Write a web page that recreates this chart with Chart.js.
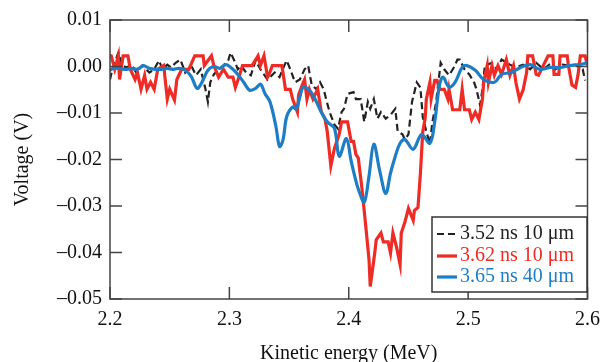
<!DOCTYPE html>
<html>
<head>
<meta charset="utf-8">
<script src="https://cdn.jsdelivr.net/npm/chart.js@4.4.1/dist/chart.umd.min.js"></script>
<style>
  html, body { margin: 0; padding: 0; background: #fff; }
</style>
</head>
<body>
<canvas id="chart" width="609" height="362"></canvas>
<script>
// Tick values
const xTicks = [2.2, 2.3, 2.4, 2.5, 2.6];
const yTicks = [0.01, 0.00, -0.01, -0.02, -0.03, -0.04, -0.05];

// Series names and colours
const seriesLabels = ['3.52 ns 10 \u03bcm', '3.62 ns 10 \u03bcm', '3.65 ns 40 \u03bcm'];
const seriesColors = ['#222222', '#ee2b24', '#1d7ec6'];

// 3.52 ns 10 um (black dashed)
const blackE = [2.200, 2.202, 2.207, 2.210, 2.214, 2.218, 2.222, 2.227, 2.233, 2.237, 2.241, 2.244, 2.248, 2.251, 2.255, 2.259,
  2.263, 2.268, 2.272, 2.276, 2.280, 2.282, 2.284, 2.287, 2.291, 2.295, 2.299, 2.301, 2.305, 2.307, 2.310, 2.314, 2.318, 2.322,
  2.326, 2.332, 2.338, 2.342, 2.346, 2.348, 2.351, 2.355, 2.359, 2.363, 2.366, 2.369, 2.373, 2.376, 2.379, 2.381, 2.384, 2.388,
  2.391, 2.394, 2.396, 2.399, 2.404, 2.406, 2.410, 2.413, 2.416, 2.418, 2.421, 2.424, 2.427, 2.431, 2.435, 2.439, 2.441, 2.445,
  2.447, 2.450, 2.453, 2.457, 2.460, 2.462, 2.465, 2.468, 2.470, 2.473, 2.477, 2.480, 2.484, 2.489, 2.491, 2.493, 2.497, 2.501,
  2.505, 2.507, 2.510, 2.512, 2.514, 2.520, 2.524, 2.528, 2.535, 2.540, 2.546, 2.552, 2.557, 2.563, 2.568, 2.573, 2.579, 2.585,
  2.590, 2.596, 2.598];
const blackV = [-0.0028, -0.0006, 0.0030, 0.0002, -0.0002, 0.0004, -0.0013, 0.0002, -0.0013, -0.0006, 0.0013, -0.0006, 0.0004, -0.0002, 0.0008, 0.0015,
  -0.0013, 0.0002, -0.0019, -0.0006, -0.0049, -0.0076, -0.0034, -0.0017, -0.0006, 0.0002, 0.0013, 0.0030, 0.0008, -0.0006, 0.0002, -0.0013, -0.0019, 0.0013,
  -0.0006, -0.0028, -0.0013, -0.0023, 0.0002, 0.0013, -0.0006, -0.0034, -0.0028, -0.0006, 0.0002, -0.0040, -0.0049, -0.0034, -0.0049, -0.0070, -0.0098, -0.0125,
  -0.0134, -0.0098, -0.0091, -0.0059, -0.0055, -0.0070, -0.0070, -0.0119, -0.0076, -0.0091, -0.0070, -0.0112, -0.0098, -0.0112, -0.0104, -0.0091, -0.0140, -0.0146,
  -0.0157, -0.0146, -0.0076, -0.0034, -0.0045, -0.0108, -0.0140, -0.0167, -0.0120, -0.0080, 0.0008, -0.0006, -0.0019, 0.0002, 0.0015, 0.0015, -0.0006, -0.0017,
  -0.0034, -0.0049, -0.0083, -0.0049, 0.0002, 0.0008, -0.0006, 0.0015, 0.0004, -0.0002, 0.0004, -0.0006, 0.0008, -0.0006, 0.0004, -0.0006, 0.0004, 0.0002,
  0.0004, -0.0006, -0.0030];

// 3.62 ns 10 um (red)
const redE = [2.200, 2.201, 2.204, 2.207, 2.208, 2.211, 2.215, 2.217, 2.221, 2.223, 2.226, 2.229, 2.231, 2.234, 2.237, 2.240,
  2.245, 2.248, 2.250, 2.254, 2.256, 2.260, 2.266, 2.271, 2.278, 2.279, 2.285, 2.287, 2.291, 2.295, 2.299, 2.303, 2.305, 2.308,
  2.311, 2.319, 2.324, 2.326, 2.329, 2.332, 2.333, 2.336, 2.344, 2.347, 2.351, 2.353, 2.357, 2.358, 2.361, 2.363, 2.365, 2.367,
  2.370, 2.374, 2.377, 2.380, 2.382, 2.385, 2.388, 2.392, 2.394, 2.398, 2.399, 2.402, 2.404, 2.406, 2.408, 2.411, 2.414, 2.417,
  2.418, 2.421, 2.422, 2.423, 2.427, 2.429, 2.433, 2.435, 2.437, 2.440, 2.443, 2.444, 2.447, 2.450, 2.454, 2.455, 2.458, 2.460,
  2.462, 2.464, 2.465, 2.468, 2.469, 2.472, 2.474, 2.476, 2.480, 2.483, 2.484, 2.487, 2.493, 2.495, 2.497, 2.501, 2.503, 2.506,
  2.509, 2.512, 2.513, 2.516, 2.517, 2.520, 2.522, 2.525, 2.528, 2.532, 2.535, 2.538, 2.540, 2.543, 2.546, 2.549, 2.550, 2.554,
  2.557, 2.559, 2.563, 2.567, 2.571, 2.572, 2.576, 2.577, 2.583, 2.584, 2.587, 2.590, 2.592, 2.594, 2.598, 2.600];
const redV = [0.0023, 0.0023, -0.0006, 0.0023, -0.0028, 0.0023, 0.0023, -0.0006, -0.0028, -0.0013, -0.0049, -0.0019, -0.0049, -0.0034, -0.0049, -0.0006,
  0.0002, -0.0070, -0.0049, -0.0072, -0.0028, -0.0006, -0.0006, 0.0023, 0.0023, 0.0002, 0.0023, 0.0002, -0.0023, -0.0006, -0.0023, -0.0023, -0.0045, -0.0023,
  0.0002, 0.0002, 0.0023, 0.0002, 0.0023, -0.0023, -0.0019, 0.0002, 0.0002, -0.0049, -0.0049, -0.0070, -0.0098, -0.0061, -0.0040, -0.0028, -0.0070, -0.0049,
  -0.0070, -0.0049, -0.0098, -0.0112, -0.0140, -0.0214, -0.0176, -0.0146, -0.0119, -0.0119, -0.0119, -0.0161, -0.0161, -0.0189, -0.0197, -0.0261, -0.0337, -0.0416,
  -0.0473, -0.0416, -0.0396, -0.0373, -0.0358, -0.0377, -0.0377, -0.0401, -0.0358, -0.0388, -0.0426, -0.0358, -0.0335, -0.0305, -0.0331, -0.0310, -0.0303, -0.0231,
  -0.0140, -0.0112, -0.0070, -0.0034, -0.0070, -0.0030, -0.0030, -0.0049, -0.0049, -0.0070, -0.0049, -0.0093, -0.0093, -0.0049, -0.0093, -0.0093, -0.0114, -0.0098,
  -0.0114, -0.0070, -0.0034, 0.0002, -0.0034, 0.0002, -0.0019, 0.0002, -0.0017, 0.0015, -0.0019, 0.0002, -0.0034, -0.0070, -0.0051, -0.0013, 0.0023, 0.0023,
  -0.0017, -0.0019, 0.0002, 0.0023, 0.0023, -0.0017, -0.0017, 0.0023, 0.0023, 0.0002, -0.0040, -0.0045, -0.0019, 0.0023, 0.0023, 0.0002];

// 3.65 ns 40 um (blue)
const blueE = [2.200, 2.203, 2.208, 2.213, 2.218, 2.223, 2.228, 2.233, 2.238, 2.243, 2.248, 2.253, 2.258, 2.263, 2.268, 2.273,
  2.277, 2.282, 2.287, 2.292, 2.297, 2.302, 2.307, 2.312, 2.317, 2.322, 2.326, 2.330, 2.334, 2.339, 2.342, 2.345, 2.348, 2.353,
  2.356, 2.359, 2.362, 2.367, 2.371, 2.376, 2.382, 2.388, 2.392, 2.398, 2.402, 2.406, 2.409, 2.413, 2.417, 2.421, 2.426, 2.431,
  2.435, 2.439, 2.443, 2.447, 2.454, 2.461, 2.468, 2.472, 2.476, 2.479, 2.484, 2.489, 2.495, 2.499, 2.506, 2.513, 2.522, 2.528,
  2.536, 2.544, 2.552, 2.560, 2.569, 2.577, 2.585, 2.593, 2.600];
const blueV = [-0.0008, -0.0004, -0.0004, -0.0006, -0.0004, -0.0006, 0.0002, -0.0004, -0.0006, -0.0006, -0.0004, -0.0006, -0.0004, -0.0008, -0.0021, -0.0047,
  -0.0034, -0.0008, 0.0000, -0.0004, 0.0004, -0.0004, -0.0017, -0.0034, -0.0051, -0.0047, -0.0038, -0.0059, -0.0076, -0.0129, -0.0172, -0.0157, -0.0108, -0.0087,
  -0.0091, -0.0066, -0.0044, -0.0051, -0.0066, -0.0093, -0.0119, -0.0133, -0.0193, -0.0155, -0.0203, -0.0246, -0.0271, -0.0292, -0.0235, -0.0167, -0.0225, -0.0273,
  -0.0229, -0.0193, -0.0165, -0.0157, -0.0178, -0.0146, -0.0165, -0.0119, -0.0040, -0.0023, -0.0044, -0.0034, -0.0002, 0.0002, -0.0008, -0.0028, -0.0034, -0.0017,
  -0.0013, -0.0002, 0.0004, -0.0006, -0.0002, -0.0002, 0.0002, 0.0004, 0.0008];

function toPoints(xs, ys) {
    return xs.map((x, i) => ({ x: x, y: ys[i] }));
}

const serif = 'Liberation Serif';

function fmtY(v) {
    if (v < -1e-9) return '\u2013' + Math.abs(v).toFixed(2);
    return Math.abs(v).toFixed(2);
}

// Frame, inward tick marks and the boxed legend
const framePlugin = {
    id: 'framePlugin',
    afterDraw(chart) {
        const { ctx, chartArea: a, scales } = chart;
        const xs = scales.x, ys = scales.y;
        const len = 12;
        ctx.save();
        ctx.strokeStyle = '#444';
        ctx.lineWidth = 1.5;
        ctx.strokeRect(a.left, a.top, a.right - a.left, a.bottom - a.top);
        ctx.beginPath();
        xTicks.forEach(v => {
            const px = xs.getPixelForValue(v);
            ctx.moveTo(px, a.bottom); ctx.lineTo(px, a.bottom - len);
            ctx.moveTo(px, a.top); ctx.lineTo(px, a.top + len);
        });
        yTicks.forEach(v => {
            const py = ys.getPixelForValue(v);
            ctx.moveTo(a.left, py); ctx.lineTo(a.left + len, py);
            ctx.moveTo(a.right, py); ctx.lineTo(a.right - len, py);
        });
        ctx.stroke();

        // legend box
        const bx = 432, by = 217, bw = 155, bh = 75;
        ctx.fillStyle = '#fff';
        ctx.fillRect(bx, by, bw, bh);
        ctx.strokeStyle = '#333';
        ctx.lineWidth = 1.5;
        ctx.strokeRect(bx, by, bw, bh);
        ctx.font = '20px "' + serif + '"';
        ctx.textBaseline = 'middle';
        const rows = [233, 255, 276];
        chart.data.datasets.forEach((ds, i) => {
            const yy = rows[i];
            ctx.strokeStyle = ds.borderColor;
            ctx.lineWidth = ds.borderWidth;
            ctx.setLineDash(ds.borderDash || []);
            ctx.beginPath();
            ctx.moveTo(437, yy + 1);
            ctx.lineTo(457, yy + 1);
            ctx.stroke();
            ctx.setLineDash([]);
            ctx.fillStyle = ds.borderColor;
            ctx.fillText(ds.label, 460, yy + 1);
        });
        ctx.restore();
    }
};

const ctx = document.getElementById('chart').getContext('2d');
const chart = new Chart(ctx, {
    type: 'line',
    data: {
        datasets: [
            {
                label: seriesLabels[0],
                data: toPoints(blackE, blackV),
                borderColor: seriesColors[0],
                borderWidth: 2.2,
                borderDash: [7, 4],
                pointRadius: 0,
                tension: 0,
                fill: false,
                order: 2,
            },
            {
                label: seriesLabels[1],
                data: toPoints(redE, redV),
                borderColor: seriesColors[1],
                borderWidth: 3.2,
                pointRadius: 0,
                tension: 0,
                fill: false,
                order: 1,
            },
            {
                label: seriesLabels[2],
                data: toPoints(blueE, blueV),
                borderColor: seriesColors[2],
                borderWidth: 3.2,
                pointRadius: 0,
                tension: 0.35,
                fill: false,
                order: 0,
            },
        ],
    },
    options: {
        responsive: false,
        animation: false,
        layout: { padding: { top: 16, right: 14, left: 0, bottom: 0 } },
        plugins: {
            legend: { display: false },
            tooltip: { enabled: false }
        },
        scales: {
            x: {
                type: 'linear',
                min: 2.2,
                max: 2.6,
                afterBuildTicks: s => { s.ticks = xTicks.map(v => ({ value: v })); },
                afterFit: s => { s.height = 63; },
                grid: { display: false, drawTicks: false },
                border: { display: false },
                ticks: {
                    padding: 9,
                    color: '#111',
                    font: { family: serif, size: 20 },
                    maxRotation: 0,
                    callback: v => v.toFixed(1),
                },
                title: {
                    display: true,
                    text: 'Kinetic energy (MeV)',
                    color: '#111',
                    font: { family: serif, size: 20 },
                    padding: { top: 0, bottom: -4 },
                },
            },
            y: {
                min: -0.05,
                max: 0.01,
                afterBuildTicks: s => { s.ticks = yTicks.map(v => ({ value: v })); },
                afterFit: s => { s.width = 110; },
                grid: { display: false, drawTicks: false },
                border: { display: false },
                ticks: {
                    padding: 8,
                    color: '#111',
                    font: { family: serif, size: 20 },
                    callback: v => fmtY(v),
                },
                title: {
                    display: true,
                    text: 'Voltage (V)',
                    color: '#111',
                    font: { family: serif, size: 20 },
                    padding: { top: 11, bottom: 0 },
                },
            },
        },
    },
    plugins: [framePlugin],
});
</script>
</body>
</html>
